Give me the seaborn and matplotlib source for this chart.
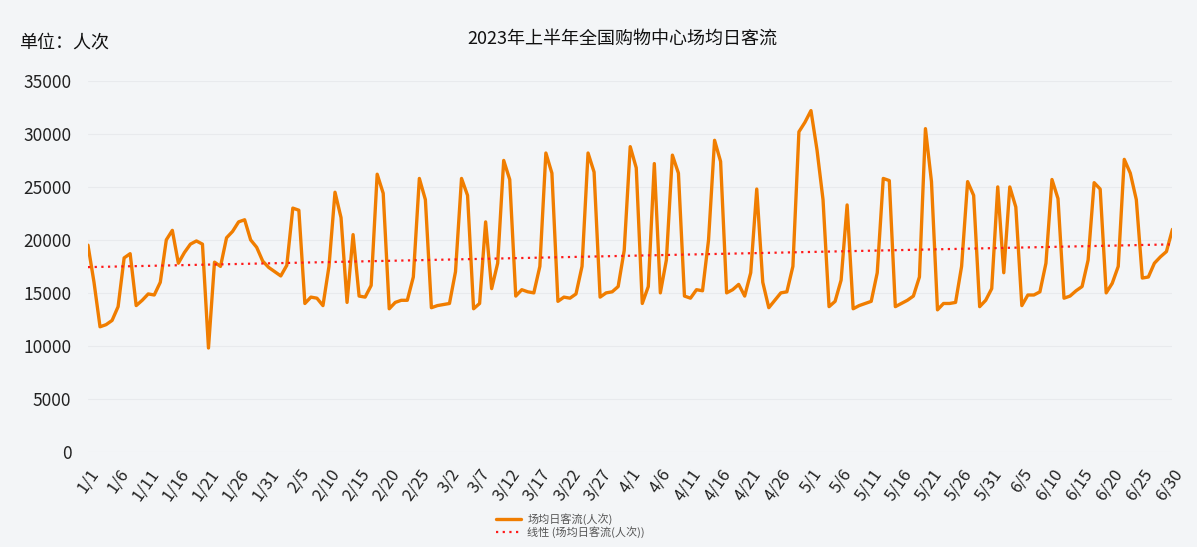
import numpy as np
import pandas as pd
import matplotlib
matplotlib.use("Agg")
import matplotlib.pyplot as plt
import seaborn as sns

# 2023年上半年 场均日客流（人次，千人）
jan = [19.5, 16.0, 11.8, 12.0, 12.4, 13.7, 18.3, 18.7, 13.8, 14.3, 14.9, 14.8, 16.0, 20.0, 20.9, 17.8,
       18.8, 19.6, 19.9, 19.6, 9.8, 17.9, 17.5, 20.2, 20.8, 21.7, 21.9, 20.0, 19.3, 18.0, 17.4]
feb = [17.0, 16.6, 17.6, 23.0, 22.8, 14.0, 14.6, 14.5, 13.8, 17.5, 24.5, 22.1, 14.1, 20.5, 14.7, 14.6,
       15.7, 26.2, 24.4, 13.5, 14.1, 14.3, 14.3, 16.5, 25.8, 23.8, 13.6, 13.8]
mar = [13.9, 14.0, 17.0, 25.8, 24.2, 13.5, 14.0, 21.7, 15.4, 17.8, 27.5, 25.7, 14.7, 15.3, 15.1, 15.0,
       17.5, 28.2, 26.3, 14.2, 14.6, 14.5, 14.9, 17.5, 28.2, 26.4, 14.6, 15.0, 15.1, 15.6, 19.0]
apr = [28.8, 26.8, 14.0, 15.6, 27.2, 15.0, 18.1, 28.0, 26.3, 14.7, 14.5, 15.3, 15.2, 20.0, 29.4, 27.4,
       15.0, 15.3, 15.8, 14.7, 16.9, 24.8, 16.0, 13.6, 14.3, 15.0, 15.1, 17.5, 30.2, 31.1]
may = [32.2, 28.5, 23.8, 13.7, 14.2, 16.2, 23.3, 13.5, 13.8, 14.0, 14.2, 16.9, 25.8, 25.6, 13.7, 14.0,
       14.3, 14.7, 16.5, 30.5, 25.5, 13.4, 14.0, 14.0, 14.1, 17.5, 25.5, 24.2, 13.7, 14.3, 15.4]
jun = [25.0, 16.9, 25.0, 23.1, 13.8, 14.8, 14.8, 15.1, 17.8, 25.7, 23.9, 14.5, 14.7, 15.2, 15.6, 18.1,
       25.4, 24.8, 15.0, 15.9, 17.5, 27.6, 26.3, 23.8, 16.4, 16.5, 17.8, 18.4, 18.9, 21.0]

months = [jan, feb, mar, apr, may, jun]
values = np.array(sum(months, [])) * 1000
labels = [f"{m + 1}/{d + 1}" for m, days in enumerate(months) for d in range(len(days))]

df = pd.DataFrame({"day": np.arange(len(values)), "flow": values, "label": labels})

# 线性趋势
k, b = np.polyfit(df["day"], df["flow"], 1)
df["trend"] = k * df["day"] + b

bg = "#f3f5f7"
sns.set_style("white")
plt.rcParams["font.family"] = ["Noto Sans CJK SC", "DejaVu Sans"]

fig = plt.figure(figsize=(11.97, 5.47), dpi=100, facecolor=bg)
ax = fig.add_axes([0.0735, 0.174, 0.906, 0.678])
ax.set_facecolor(bg)

sns.lineplot(data=df, x="day", y="flow", color="#f07d00", lw=2.4, ax=ax, label="场均日客流(人次)",
             solid_joinstyle="round")
sns.lineplot(data=df, x="day", y="trend", color="#ff1a1a", lw=1.6, ls=(0, (1, 2)), ax=ax,
             label="线性 (场均日客流(人次))")

ax.set_xlim(0, len(values) - 1)
ax.set_ylim(0, 35000)
ax.set_yticks(np.arange(0, 35001, 5000))
ticks = df["day"][::5]
ax.set_xticks(ticks)
ax.set_xticklabels(df["label"][::5], rotation=55, ha="right", rotation_mode="anchor", fontsize=12)
ax.tick_params(axis="y", labelsize=12.5, length=0, pad=12, colors="#222222")
ax.tick_params(axis="x", length=0, pad=10, colors="#222222")
ax.yaxis.grid(True, color="#e8eaed", lw=0.8)
ax.set_axisbelow(True)
for s in ax.spines.values():
    s.set_visible(False)
ax.set_xlabel("")
ax.set_ylabel("")

fig.text(0.52, 0.93, "2023年上半年全国购物中心场均日客流", ha="center", va="center", fontsize=13,
         color="#111111", fontweight="medium")
fig.text(0.016, 0.922, "单位：人次", ha="left", va="center", fontsize=13, color="#111111",
         fontweight="medium")

leg = ax.legend(loc="upper center", bbox_to_anchor=(0.445, -0.15), frameon=False, fontsize=8,
                handlelength=2.2, labelspacing=0.15, borderpad=0, handletextpad=0.6)
for t in leg.get_texts():
    t.set_color("#555555")

fig.savefig("out.png", dpi=100, facecolor=bg)
